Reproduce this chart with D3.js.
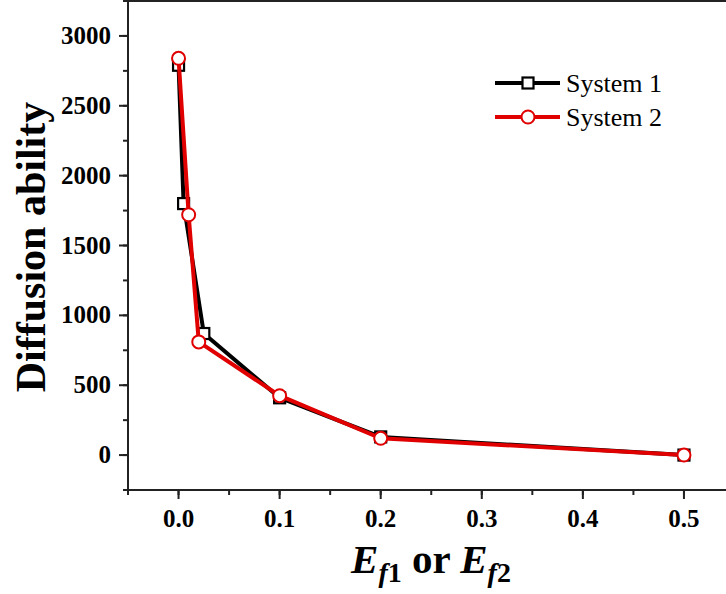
<!DOCTYPE html>
<html><head><meta charset="utf-8">
<script src="https://cdn.jsdelivr.net/npm/d3@7"></script>
<style>body{margin:0;background:#fff;} svg{display:block;}</style>
</head><body>
<svg id="c" width="726" height="594"></svg>
<script>
const series1X = [0, 0.005, 0.025, 0.1, 0.2, 0.5];
const series1Y = [2790, 1800, 870, 410, 130, 0];
const series2X = [0, 0.01, 0.02, 0.1, 0.2, 0.5];
const series2Y = [2840, 1720, 810, 425, 120, 0];
const seriesNames = ["System 1", "System 2"];
const xTicks = [0, 0.1, 0.2, 0.3, 0.4, 0.5];
const yTicks = [0, 500, 1000, 1500, 2000, 2500, 3000];

const svg = d3.select("#c");
const x = d3.scaleLinear().domain([-0.05, 0.55]).range([128, 734.5]);
const y = d3.scaleLinear().domain([-250, 3250]).range([490, 1]);
const serif = "'Liberation Serif','Times New Roman',serif";

// frame
svg.append("line").attr("x1", x(-0.05)).attr("x2", 726).attr("y1", 1).attr("y2", 1)
  .attr("stroke", "#222").attr("stroke-width", 2);

// x axis
const xMinor = d3.range(-0.05, 0.551, 0.05).map(v => +v.toFixed(2));
const gx = svg.append("g").attr("transform", "translate(0,490)");
gx.append("line").attr("x1", x(-0.05)).attr("x2", 726).attr("stroke", "#222").attr("stroke-width", 2);
gx.selectAll(".mi").data(xMinor).join("line").attr("x1", d => x(d)).attr("x2", d => x(d))
  .attr("y1", 0).attr("y2", 5).attr("stroke", "#222").attr("stroke-width", 2);
gx.selectAll(".ma").data(xTicks).join("line").attr("x1", d => x(d)).attr("x2", d => x(d))
  .attr("y1", 0).attr("y2", 9).attr("stroke", "#222").attr("stroke-width", 2);
gx.selectAll("text").data(xTicks).join("text").attr("x", d => x(d)).attr("y", 37)
  .attr("text-anchor", "middle").attr("font-family", serif).attr("font-weight", "bold")
  .attr("font-size", 25).text(d => d3.format(".1f")(d));

// y axis
const yMinor = d3.range(-250, 3251, 250);
const gy = svg.append("g").attr("transform", "translate(128,0)");
gy.append("line").attr("y1", 0).attr("y2", y(-250)).attr("stroke", "#222").attr("stroke-width", 2);
gy.selectAll(".mi").data(yMinor).join("line").attr("y1", d => y(d)).attr("y2", d => y(d))
  .attr("x1", 0).attr("x2", -5).attr("stroke", "#222").attr("stroke-width", 2);
gy.selectAll(".ma").data(yTicks).join("line").attr("y1", d => y(d)).attr("y2", d => y(d))
  .attr("x1", 0).attr("x2", -9).attr("stroke", "#222").attr("stroke-width", 2);
gy.selectAll("text").data(yTicks).join("text").attr("x", -17).attr("y", d => y(d) + 8)
  .attr("text-anchor", "end").attr("font-family", serif).attr("font-weight", "bold")
  .attr("font-size", 25).text(d => d);

// axis titles
svg.append("text").attr("transform", "translate(45,247) rotate(-90)")
  .attr("text-anchor", "middle").attr("font-family", serif).attr("font-weight", "bold")
  .attr("font-size", 42).text("Diffusion ability");

const xt = svg.append("text").attr("x", 431).attr("y", 573).attr("text-anchor", "middle")
  .attr("font-family", serif).attr("font-weight", "bold").attr("font-size", 41);
xt.append("tspan").attr("font-style", "italic").text("E");
xt.append("tspan").attr("font-style", "italic").attr("font-size", 28).attr("dy", 9).text("f");
xt.append("tspan").attr("font-size", 28).text("1");
xt.append("tspan").attr("dy", -9).text(" or ");
xt.append("tspan").attr("font-style", "italic").text("E");
xt.append("tspan").attr("font-style", "italic").attr("font-size", 28).attr("dy", 9).text("f");
xt.append("tspan").attr("font-size", 28).text("2");

// data
const d1 = series1X.map((v, i) => [v, series1Y[i]]);
const d2 = series2X.map((v, i) => [v, series2Y[i]]);
const line = d3.line().x(d => x(d[0])).y(d => y(d[1]));
svg.append("path").datum(d1).attr("d", line).attr("fill", "none").attr("stroke", "#000").attr("stroke-width", 4);
svg.selectAll(".sq").data(d1).join("rect").attr("x", d => x(d[0]) - 5.5).attr("y", d => y(d[1]) - 5.5)
  .attr("width", 11).attr("height", 11).attr("fill", "#fff").attr("stroke", "#000").attr("stroke-width", 2.2);
svg.append("path").datum(d2).attr("d", line).attr("fill", "none").attr("stroke", "#e00000").attr("stroke-width", 4);
svg.selectAll(".ci").data(d2).join("circle").attr("cx", d => x(d[0])).attr("cy", d => y(d[1]))
  .attr("r", 6.5).attr("fill", "#fff").attr("stroke", "#e00000").attr("stroke-width", 2);

// legend
const leg = svg.append("g");
const legY = [83, 117];
const colors = ["#000", "#e00000"];
seriesNames.forEach((name, i) => {
  leg.append("line").attr("x1", 495).attr("x2", 560).attr("y1", legY[i]).attr("y2", legY[i])
    .attr("stroke", colors[i]).attr("stroke-width", 4);
  if (i === 0) {
    leg.append("rect").attr("x", 528 - 5.5).attr("y", legY[i] - 5.5).attr("width", 11).attr("height", 11)
      .attr("fill", "#fff").attr("stroke", "#000").attr("stroke-width", 2.2);
  } else {
    leg.append("circle").attr("cx", 528).attr("cy", legY[i]).attr("r", 6.5)
      .attr("fill", "#fff").attr("stroke", colors[i]).attr("stroke-width", 2);
  }
  leg.append("text").attr("x", 566).attr("y", legY[i] + 9).attr("font-family", serif)
    .attr("font-size", 26).text(name);
});
</script>
</body></html>
